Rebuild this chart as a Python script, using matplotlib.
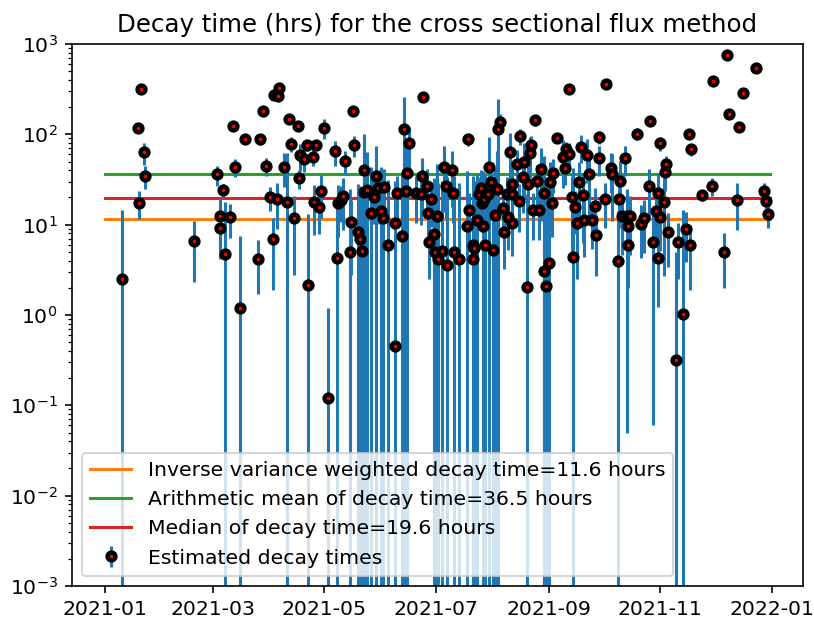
import matplotlib
matplotlib.use("Agg")
import matplotlib.pyplot as plt
import numpy as np
import pandas as pd

# days since 2021-01-01 for each event
days = [9, 18, 18.6, 19.5, 21, 21.9, 48.8, 61.2, 63, 63, 64.7, 65.6, 68.3, 69.8, 71,
        73.8, 76.7, 83.8, 84.9, 86.6, 88, 90.2, 91.7, 92.2, 94.1, 94.4, 95.3, 98.1,
        99.5, 100.8, 101.7, 103.6, 105.7, 106.3, 106.8, 109, 110.5, 111.2, 114, 114.5,
        115.4, 116.9, 118.2, 120, 121.8, 125.8, 126.7, 127.7, 129, 130, 131.5, 134.2,
        134.6, 135.5, 136.4, 138.6, 139.7, 140.4, 141.5, 141.9, 143.4, 145.6, 147.4,
        148.3, 149.2, 151, 151.9, 152.9, 154.7, 158.9, 158.9, 159.6, 162.4, 163.8,
        164.8, 165.3, 166.2, 170.2, 173, 173.5, 174.2, 176.1, 176.6, 177.5, 178.5,
        179.9, 180.8, 181.7, 182.1, 184.5, 185.4, 186.7, 187.2, 189.8, 190.7, 190.9,
        194, 198, 198.5, 199.5, 201.3, 201.6, 202.2, 203.5, 204.9, 205.8, 206.4,
        206.7, 207.2, 208.2, 209.9, 210.4, 211.3, 212.2, 213.7, 214.6, 215.3, 216.4,
        217.7, 218.6, 219.9, 220.4, 221.7, 222.6, 222.8, 223, 225.6, 226.8, 227.4,
        229, 229.6, 230.9, 231.8, 232.7, 233.2, 234.5, 235.6, 236.3, 237.4, 238.7,
        240.2, 240.5, 241.5, 242.9, 243.7, 244.6, 245.1, 247.3, 251, 251.9, 252.4,
        253.9, 254.2, 255.7, 256.4, 257.5, 258.2, 259.7, 260.6, 261.5, 262.5, 263.9,
        265.2, 266.5, 268, 268.9, 270.3, 270.3, 273.8, 274.3, 277.1, 277.6, 281.1,
        281.6, 282.2, 282.9, 284.9, 285.7, 286.2, 286.2, 287.5, 291.1, 293.5, 295.3,
        297.7, 298.5, 300.3, 301.7, 302.6, 302.6, 303.6, 304.1, 305.8, 306.7, 307.2,
        308.1, 312.9, 313.6, 316.3, 318.2, 319.5, 320.4, 320.9, 326.7, 332.2, 332.8,
        338.8, 340.6, 341.9, 346, 347.4, 349.2, 356.5, 360.7, 361.9, 362.9]

decay = [2.5, 118, 17.5, 315, 63, 35, 6.6, 36, 12.6, 9.2, 24, 4.7, 12.1, 124, 44,
         1.2, 89, 4.2, 89, 181, 45, 20, 6.9, 272, 19, 268, 328, 44,
         17.7, 148, 78, 11.8, 124, 32.6, 59, 53, 75.5, 2.15, 56.5, 17.7,
         75.5, 15.8, 23.8, 118, 0.12, 65, 4.3, 17.3, 18.6, 20.7, 50.7, 5.0,
         10.8, 181, 75.5, 8.4, 6.9, 5.1, 23, 40.5, 24.2, 13.4, 20.1,
         34.6, 25.2, 14.0, 12.0, 25.9, 6.0, 10.5, 0.45, 22.5, 7.5, 115,
         23.8, 37.7, 79.6, 22.5, 21.8, 34.6, 261, 26.8, 13.6, 6.5, 19.4,
         7.8, 5.0, 12.5, 4.2, 5.1, 43.9, 26.8, 3.6, 40.5, 22.5, 5.0,
         4.2, 9.75, 88.7, 14.5, 5.9, 4.2, 5.5, 11.2, 21.8, 25.2, 17.3,
         9.6, 19.4, 5.9, 21.6, 43.9, 29.6, 5.2, 12.9, 24.7, 116, 137,
         15.4, 8.2, 21.6, 12.3, 63.3, 10.5, 28.1, 21.8, 46.5, 18.4, 95.3,
         33.4, 50, 2.03, 28.1, 62.7, 76, 14.7, 144, 30.2, 14.7, 41,
         3.07, 22.2, 2.07, 3.75, 29.6, 17.3, 37.7, 91.8, 55.7, 42.7, 68.2,
         315, 60.5, 20, 4.4, 15.8, 10.5, 29.6, 73.1, 21.2, 11.4, 59,
         36.1, 11.4, 16.2, 7.7, 94, 54.2, 19.1, 358, 42.7, 36.1, 4.0,
         19.2, 30.2, 12.6, 54.2, 12.5, 9.6, 6.0, 12.6, 102, 10.3, 11.8,
         26.8, 140, 6.5, 14.2, 22.2, 4.24, 12.1, 79.6, 17.7, 38.7, 47,
         8.4, 0.32, 6.5, 1.02, 8.9, 99.8, 5.9, 68.2, 21.2, 26.8, 393,
         5.0, 755, 168, 18.8, 120, 284, 538, 23.8, 18.1, 13.2]

decay_err = [12, 8, 6, 30, 17, 10, 4.3, 9, 7, 5, 4, 13, 5, 10, 10,
             6.3, 8, 2.5, 12, 15, 10, 6, 5, 20, 10, 20, 25, 18,
             44, 15, 15, 9, 15, 8, 20, 15, 10, 11, 12, 10,
             10, 8, 12, 30, 1.07, 20, 12, 10, 8, 12, 15, 20,
             8, 20, 20, 20, 20, 20, 12, 60, 40, 30, 10,
             40, 15, 30, 25, 15, 25, 20, 3.6, 12, 30, 144,
             12, 40, 40, 12, 12, 20, 30, 15, 8, 4, 10,
             25, 20, 35, 25, 25, 30, 15, 30, 25, 12, 30,
             25, 30, 15, 8, 25, 30, 25, 25, 12, 15, 9,
             30, 10, 30, 12, 50, 18, 25, 30, 40, 129, 30,
             8, 5, 12, 7, 40, 6, 15, 12, 20, 10, 20,
             20, 30, 20, 15, 30, 20, 8, 20, 15, 8, 30,
             20, 35, 20, 20, 20, 10, 15, 10, 30, 15, 15,
             20, 20, 15, 38, 8, 8, 20, 25, 15, 7, 30,
             25, 6, 9, 5, 15, 20, 10, 20, 20, 25, 10,
             10, 20, 8, 20, 12.45, 6, 4, 8, 15, 6, 7,
             15, 10, 6.44, 8, 15, 3, 7, 15, 15, 15, 10,
             5, 4.6, 4, 13.5, 5, 10, 4, 10, 3, 6, 10,
             3, 20, 10, 10, 10, 10, 10, 5, 4, 4]

weighted_mean = 11.6
arith_mean = 36.5
median_decay = 19.6

t0 = pd.Timestamp("2021-01-01")
dates = t0 + pd.to_timedelta(np.array(days), unit="D")
span = [pd.Timestamp("2021-01-01"), pd.Timestamp("2021-12-31")]

fig = plt.figure(figsize=(814 / 147, 625 / 147), dpi=147)
ax = fig.add_axes([72 / 814, 39 / 625, 731 / 814, 542 / 625])

ax.plot(span, [weighted_mean] * 2, color="C1",
        label="Inverse variance weighted decay time=%.1f hours" % weighted_mean)
ax.plot(span, [arith_mean] * 2, color="C2",
        label="Arithmetic mean of decay time=%.1f hours" % arith_mean)
ax.plot(span, [median_decay] * 2, color="C3",
        label="Median of decay time=%.1f hours" % median_decay)
ax.errorbar(dates, decay, yerr=decay_err, fmt="o", ecolor="C0",
            mfc="red", mec="black", ms=3.9, mew=2.1,
            label="Estimated decay times")

ax.set_yscale("log")
ax.set_ylim(1e-3, 1e3)
ax.set_title("Decay time (hrs) for the cross sectional flux method")
ax.legend(loc="lower left")

fig.savefig("out.png", dpi=147)
